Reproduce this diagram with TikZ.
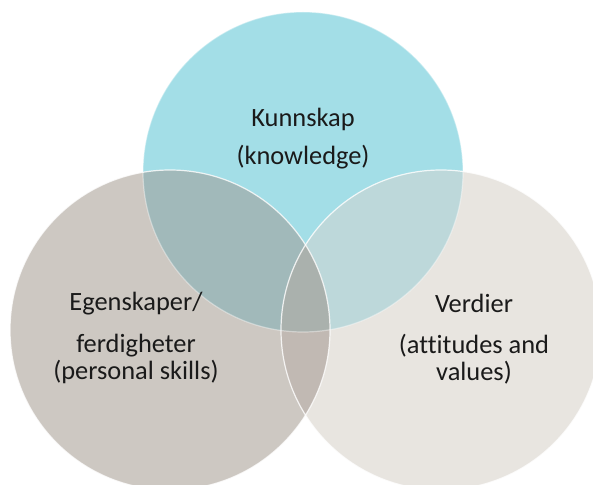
\documentclass[tikz,border=0pt]{standalone}
\usepackage{fontspec}
\setmainfont{Carlito}[Ligatures=CommonOff]

\definecolor{kunncol}{HTML}{A3DEE7}
\definecolor{egencol}{HTML}{CDC8C2}
\definecolor{verdcol}{HTML}{E8E5E0}
\definecolor{kecol}{HTML}{A1B9BA}
\definecolor{kvcol}{HTML}{BDD8DA}
\definecolor{evcol}{HTML}{C1B9B3}
\definecolor{allcol}{HTML}{AAB1AD}
\definecolor{textcol}{HTML}{1A1A1A}

\begin{document}
\begin{tikzpicture}[x=1bp,y=-1bp,
  venntext/.style={align=center, inner sep=0pt, text=textcol,
    font=\fontsize{26.5}{27}\selectfont},
  rim/.style={draw=white, line width=1.2bp, draw opacity=0.8}]
\useasboundingbox (0,0) rectangle (593,485);
\def\rad{160}

% centres of the three sets
\coordinate (ctop) at (303,172);
\coordinate (cleft) at (170,330);
\coordinate (cright) at (441,330);

% plain discs
\fill[kunncol] (ctop) circle (\rad);
\fill[egencol] (cleft) circle (\rad);
\fill[verdcol] (cright) circle (\rad);

% overlaps
\begin{scope}
  \clip (ctop) circle (\rad);
  \fill[kecol] (cleft) circle (\rad);
  \fill[kvcol] (cright) circle (\rad);
\end{scope}
\begin{scope}
  \clip (cleft) circle (\rad);
  \fill[evcol] (cright) circle (\rad);
\end{scope}
\begin{scope}
  \clip (ctop) circle (\rad);
  \clip (cleft) circle (\rad);
  \fill[allcol] (cright) circle (\rad);
\end{scope}

% white rims
\draw[rim, draw opacity=0.4] (ctop) circle (\rad);
\draw[rim] (cleft) circle (\rad);
\draw[rim] (cright) circle (\rad);

% labels
\node[venntext] (kunnskap) at (303,139) {Kunnskap\\[11pt](knowledge)};
\node[venntext] (egenskaper) at (136,338) {Egenskaper/\\[15pt]ferdigheter\\(personal skills)};
\node[venntext] (verdier) at (474,339) {Verdier\\[14pt](attitudes and\\values)};
\end{tikzpicture}
\end{document}
